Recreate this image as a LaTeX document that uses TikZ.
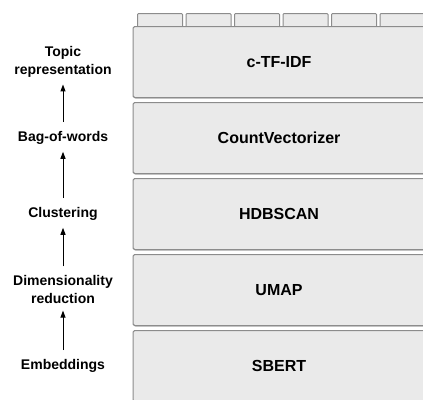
\documentclass[tikz,border=0pt]{standalone}
\usepackage{fontspec}
\setmainfont{Liberation Sans}
\usetikzlibrary{arrows.meta}
\definecolor{boxfill}{HTML}{EAEAEA}
\definecolor{boxline}{HTML}{8C8C8C}
\definecolor{shadow}{HTML}{B0B0B0}
\tikzset{
  layer/.style={draw=boxline, fill=boxfill, line width=1.1pt, rounded corners=1.5pt,
    minimum width=292pt, minimum height=71pt, inner sep=0pt,
    font=\bfseries\fontsize{16}{18}\selectfont},
  tab/.style={draw=boxline, fill=boxfill, line width=1pt, rounded corners=1pt,
    minimum width=45pt, minimum height=14pt, inner sep=0pt},
  lbl/.style={align=center, font=\bfseries\fontsize{14}{17.5}\selectfont, inner sep=1pt},
  up/.style={-{Triangle[length=7pt,width=5pt]}, line width=1pt, black}
}
\begin{document}
\begin{tikzpicture}[x=1pt,y=-1pt]
\useasboundingbox (0,0) rectangle (423,399);
\clip (0,0) rectangle (423,399);
% tabs
\foreach \i/\x in {1/137,2/185.5,3/234,4/282.5,5/331,6/379.5}{
  \node[tab, anchor=north west] (tab\i) at (\x,13) {};
}
% layers
\foreach \n/\y/\t in {ctf/26/c-TF-IDF, cv/102/CountVectorizer, hdb/178/HDBSCAN, umap/254/UMAP, sbert/330/SBERT}{
  \fill[shadow, rounded corners=1.5pt] (134,\y+1.5) rectangle ++(292,71);
  \node[layer, anchor=north west] (\n) at (132.5,\y) {\t};
}
% labels
\node[lbl] (topic) at (63,62) {Topic\\representation};
\node[lbl] (bow) at (63,138) {Bag-of-words};
\node[lbl] (clus) at (63,214) {Clustering};
\node[lbl] (dim) at (63,289.5) {Dimensionality\\reduction};
\node[lbl] (emb) at (63,366) {Embeddings};
% arrows
\draw[up, shorten <=8pt, shorten >=6pt] (emb.north) -- (dim.south);
\draw[up, shorten <=8pt, shorten >=6pt] (dim.north) -- (clus.south);
\draw[up, shorten <=8pt, shorten >=6pt] (clus.north) -- (bow.south);
\draw[up, shorten <=8pt, shorten >=6pt] (bow.north) -- (topic.south);
\end{tikzpicture}
\end{document}
